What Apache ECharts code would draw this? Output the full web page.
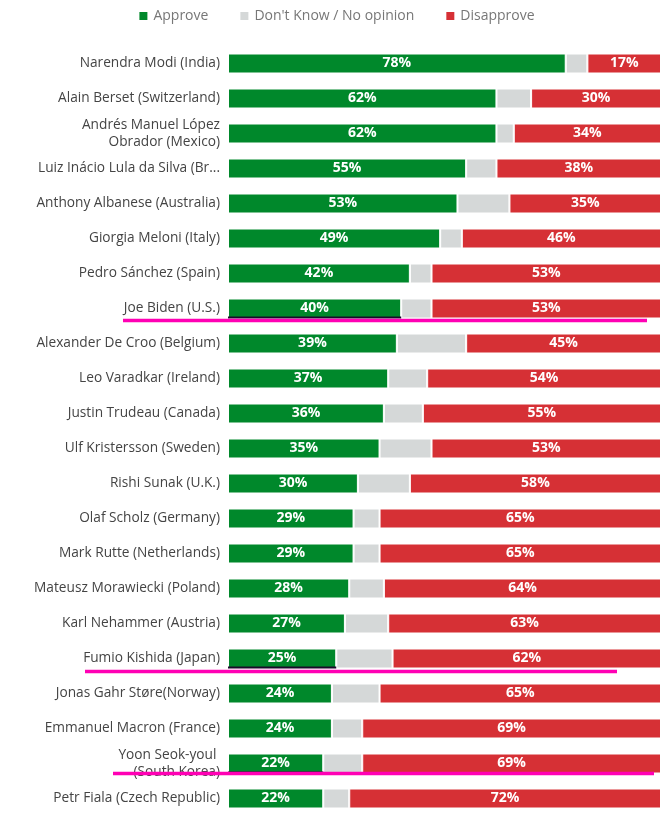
<!DOCTYPE html>
<html>
<head>
<meta charset="utf-8">
<script src="https://cdn.jsdelivr.net/npm/echarts@6/dist/echarts.min.js"></script>
<style>
  html, body { margin: 0; padding: 0; background: #fff; }
  #chart { width: 672px; height: 817px; }
</style>
</head>
<body>
<div id="chart"></div>
<script>
var leaders = [
  "Narendra Modi (India)",
  "Alain Berset (Switzerland)",
  "Andrés Manuel López\nObrador (Mexico)",
  "Luiz Inácio Lula da Silva (Br...",
  "Anthony Albanese (Australia)",
  "Giorgia Meloni (Italy)",
  "Pedro Sánchez (Spain)",
  "Joe Biden (U.S.)",
  "Alexander De Croo (Belgium)",
  "Leo Varadkar (Ireland)",
  "Justin Trudeau (Canada)",
  "Ulf Kristersson (Sweden)",
  "Rishi Sunak (U.K.)",
  "Olaf Scholz (Germany)",
  "Mark Rutte (Netherlands)",
  "Mateusz Morawiecki (Poland)",
  "Karl Nehammer (Austria)",
  "Fumio Kishida (Japan)",
  "Jonas Gahr Støre(Norway)",
  "Emmanuel Macron (France)",
  "Yoon Seok-youl \n(South Korea)",
  "Petr Fiala (Czech Republic)"
];
var approve = [78, 62, 62, 55, 53, 49, 42, 40, 39, 37, 36, 35, 30, 29, 29, 28, 27, 25, 24, 24, 22, 22];
var dontKnow = [5, 8, 4, 7, 12, 5, 5, 7, 16, 9, 9, 12, 12, 6, 6, 8, 10, 13, 11, 7, 9, 6];
var disapprove = [17, 30, 34, 38, 35, 46, 53, 53, 45, 54, 55, 53, 58, 65, 65, 64, 63, 62, 65, 69, 69, 72];

// rows underlined by hand in the source image
var highlighted = [7, 17, 20];

var chartDom = document.getElementById("chart");
var myChart = echarts.init(chartDom);

var labelStyle = {
  show: true,
  position: "inside",
  color: "#fff",
  fontWeight: "bold",
  fontSize: 14,
  fontFamily: "Open Sans",
  formatter: "{c}%"
};

function barSeries(name, data, color, showLabel) {
  return {
    name: name,
    type: "bar",
    stack: "total",
    barWidth: 20,
    data: data,
    itemStyle: { color: color, borderColor: "#fff", borderWidth: 1 },
    label: showLabel ? labelStyle : { show: false },
    emphasis: { disabled: true }
  };
}

var option = {
  animation: false,
  textStyle: { fontFamily: "Open Sans" },
  legend: {
    top: 4,
    left: "center",
    itemWidth: 10,
    itemHeight: 10,
    itemGap: 30,
    icon: "rect",
    textStyle: { color: "#777", fontSize: 14, fontFamily: "Open Sans" },
    data: ["Approve", "Don't Know / No opinion", "Disapprove"]
  },
  grid: { left: 228, right: 11, top: 46, bottom: 1 },
  xAxis: {
    type: "value",
    min: 0,
    max: 100,
    show: false
  },
  yAxis: {
    type: "category",
    inverse: true,
    data: leaders,
    axisLine: { show: false },
    axisTick: { show: false },
    axisLabel: {
      color: "#444",
      fontSize: 13.7,
      margin: 8,
      lineHeight: 17,
      fontFamily: "Open Sans"
    }
  },
  series: [
    barSeries("Approve", approve, "#00882b", true),
    barSeries("Don't Know / No opinion", dontKnow, "#d5d8d8", false),
    barSeries("Disapprove", disapprove, "#d63035", true)
  ]
};

option && myChart.setOption(option);

// magenta pen underlines, placed from the axis scales
var offsets = { 7: [123, 647, 12], 17: [85, 617, 13], 20: [113, 654, 10] };
var graphics = [];
highlighted.forEach(function (i) {
  var y = myChart.convertToPixel({ yAxisIndex: 0 }, leaders[i]);
  var x0 = myChart.convertToPixel({ xAxisIndex: 0 }, 0);
  var xa = myChart.convertToPixel({ xAxisIndex: 0 }, approve[i]);
  var o = offsets[i];
  graphics.push({
    type: "line",
    shape: { x1: x0, y1: y + 9, x2: xa, y2: y + 9 },
    style: { stroke: "#1a0a2a", lineWidth: 2 },
    z: 100
  });
  graphics.push({
    type: "line",
    shape: { x1: o[0], y1: y + o[2], x2: o[1], y2: y + o[2] },
    style: { stroke: "#ff00b4", lineWidth: 3.5 },
    z: 101
  });
});
myChart.setOption({ graphic: graphics });
</script>
</body>
</html>
